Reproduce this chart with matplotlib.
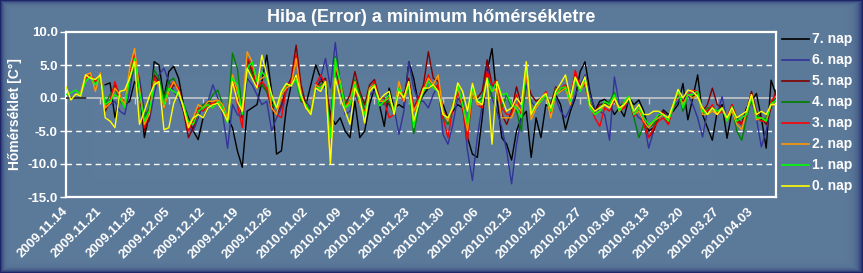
import matplotlib

matplotlib.use("Agg")
import matplotlib.pyplot as plt  # noqa: E402
import matplotlib.dates as mdates  # noqa: E402
from matplotlib.lines import Line2D  # noqa: E402
import numpy as np  # noqa: E402
import pandas as pd  # noqa: E402

plt.rcParams["font.family"] = ["Liberation Sans", "DejaVu Sans"]
plt.rcParams["font.weight"] = "bold"

# daily forecast errors, 2009.11.14 .. 2010.04.08
start = "2009-11-14"
n_days = 146
tick_from, tick_to = "2009-11-14", "2010-04-03"

series_names = ["7. nap", "6. nap", "5. nap", "4. nap", "3. nap", "2. nap", "1. nap", "0. nap"]
series_colors = ["#000000", "#333399", "#800000", "#008000", "#ff0000", "#ff9900", "#00ff00", "#ffff00"]

N = None
nap0 = [1.7, -0.3, 0.6, 0.3, 3.5, 3.0, 2.8, 3.5, -3.0, -3.5,
        -4.5, 1.0, 1.2, 3.0, 5.5, -4.0, -2.0, 0.2, 2.0, 2.5,
        -4.8, -4.5, -0.8, 1.0, -1.5, -4.5, -3.0, -2.5, -3.0, -1.5,
        -1.0, -0.8, -2.0, -3.5, 2.5, -0.5, -2.0, 4.5, 3.0, 1.5,
        6.5, 3.5, 0.5, -1.5, 1.0, 2.2, 1.8, 3.5, 0.5, -1.5,
        -2.5, 1.5, 1.0, 2.5, -10.0, 3.0, 0.0, -2.0, -4.0, 1.5,
        0.0, -3.8, 1.0, 1.8, -0.3, 0.5, 1.0, -2.5, 1.0, 0.0,
        2.5, -3.5, -1.0, 1.5, 1.5, 2.0, 1.0, -2.5, -3.0, -1.5,
        2.3, 1.0, -2.0, 2.2, -0.5, -1.0, 3.0, -7.0, 2.5, 0.0,
        -2.0, -1.5, 0.0, -1.0, 5.5, -2.5, -1.0, 0.0, 0.7, -1.5,
        1.0, 2.2, 3.5, 0.0, 3.2, 1.5, 3.2, -1.0, -2.0, -1.5,
        -1.0, -1.5, 0.0, -1.5, -1.0, 0.0, -2.0, -1.0, -2.5, -2.5,
        -2.0, -2.0, -2.5, -3.0, -1.0, 1.3, 0.0, 1.2, 1.0, 0.2,
        -1.5, -2.5, -1.5, -2.5, -1.5, -3.0, -1.5, -3.0, -2.5, -2.0,
        0.5, -2.5, -2.0, -2.5, -1.0, -1.0]
nap1 = [0.5, 0.8, 1.2, 0.5, 2.5, 3.2, 2.0, 3.2, -1.0, -0.5,
        0.5, 0.0, -1.5, 3.0, 6.0, 1.0, -3.5, -2.0, 2.0, 2.5,
        -1.0, 1.5, 1.0, 0.5, -1.0, -3.5, -4.0, -2.0, -1.5, -1.0,
        -1.5, -0.5, -1.5, -3.8, 3.0, 2.0, -2.5, 4.5, 5.5, 2.5,
        4.0, 3.0, 0.0, -1.5, 1.0, 2.0, 2.0, 2.8, 0.0, -1.0,
        -2.5, 1.5, 1.5, 2.0, -6.0, 6.0, 2.0, -1.5, -1.0, 2.0,
        -0.5, -2.5, 1.0, 2.0, -1.2, -0.5, 0.5, -2.0, 1.5, 0.0,
        2.0, -4.5, -0.5, 1.0, 2.5, 1.5, 1.0, -2.5, -3.0, -1.5,
        2.0, -1.0, -4.0, 1.5, -0.5, -0.5, 3.0, 1.0, 2.5, 0.5,
        0.7, -1.0, -1.5, -3.0, 5.0, -2.0, -1.0, -0.5, 0.5, -2.0,
        0.5, 1.5, 1.7, -0.5, 3.0, 1.0, 3.0, -1.5, -2.5, -2.0,
        -0.5, -1.0, 0.5, -2.0, -0.5, 0.3, -2.5, -1.5, -3.0, -4.0,
        -3.5, -2.5, -2.5, -3.5, -1.5, 1.2, -1.5, 0.5, 0.5, 1.0,
        -2.0, -2.5, -1.5, -2.0, -1.5, -3.5, -1.3, -3.5, -3.0, -2.5,
        0.0, -3.0, -3.0, -3.5, -0.8, -0.5]
nap2 = [N, N, 0.5, 0.8, 3.5, 3.8, 1.0, 3.8, -1.5, -0.8,
        1.5, 0.5, -1.0, 4.5, 7.5, 1.5, -4.0, -2.5, 2.5, 2.0,
        -1.5, 1.0, 2.5, 1.0, -1.5, -4.0, -3.0, -1.0, -1.5, -0.5,
        -0.5, -0.3, -1.0, -3.0, 3.5, 1.0, -2.0, 7.0, 5.5, 2.5,
        3.0, 3.5, -1.5, -2.5, 0.5, 1.5, 2.0, 6.0, 0.5, -1.5,
        -2.0, 2.0, 1.5, 2.5, -9.5, 5.0, 2.5, -1.5, -0.5, 2.5,
        -1.0, -2.5, 1.5, 2.0, -0.5, -0.5, 0.0, -2.0, 2.5, -0.5,
        2.0, -2.0, -0.5, 1.0, 3.0, 2.0, 3.5, -2.0, -3.5, -1.0,
        1.5, -1.0, -5.0, 1.0, -1.0, -1.0, 2.5, 1.0, 1.5, -3.0,
        -3.0, -3.0, -1.0, -2.0, 4.0, -3.3, -1.5, -0.5, 0.5, -3.0,
        0.5, 1.0, 1.5, -1.0, 3.0, 1.0, 2.5, -1.5, -2.5, -2.0,
        -1.0, -1.5, 0.0, -2.0, -1.0, 0.0, -2.5, -2.0, -3.5, -4.5,
        -3.5, -3.0, -2.5, -3.5, -1.0, 1.0, -1.0, 0.5, 0.0, 0.5,
        -2.5, -2.5, -2.0, -2.5, -1.5, -3.5, -2.0, -4.0, -4.8, -2.0,
        0.5, -3.3, -3.0, -3.5, -1.0, -0.5]
nap3 = [N, N, N, 0.5, 3.0, 3.5, 2.5, 3.5, -1.5, -0.5,
        2.5, 0.0, -1.0, 3.5, 6.5, 1.0, -4.5, -2.0, 3.0, 2.0,
        -1.0, 1.5, 2.5, 1.5, -1.5, -5.0, -3.5, -1.5, -2.0, -1.0,
        -0.8, -0.3, -2.0, -3.5, 3.0, -1.0, -4.5, 6.0, 5.0, 1.5,
        2.5, 1.5, -1.5, -2.5, -3.0, 1.5, 2.5, 6.5, 0.0, -1.5,
        -2.5, 2.0, 3.5, 2.0, -5.0, 5.5, 1.5, -1.0, -0.5, 1.5,
        -1.0, -2.0, 1.0, 2.5, -0.5, -0.5, -3.0, -2.5, 1.0, -0.5,
        2.5, -2.0, 0.0, 1.5, 3.5, 1.5, 2.0, -3.0, -6.0, -1.5,
        1.0, -1.5, -6.5, 1.5, -1.0, -1.5, 4.0, 2.0, 2.7, -1.5,
        -2.5, -2.5, 0.5, -2.5, 3.5, -2.0, -1.0, -0.5, 1.0, -2.5,
        1.0, 1.5, 2.0, -0.3, 4.2, 1.5, 2.0, -1.0, -3.0, -4.3,
        -1.5, -2.0, 0.0, -2.0, -1.5, 0.3, -2.8, -1.5, -4.0, -6.0,
        -4.5, -3.5, -3.0, -4.0, -1.5, 0.8, -1.0, 0.5, 1.2, 1.0,
        -2.0, -2.0, -1.0, -2.5, -2.0, -3.0, -1.0, -3.5, -4.0, -2.5,
        0.0, -3.0, -3.5, -3.5, -0.5, 0.5]
nap4 = [N, N, N, N, N, N, N, 3.0, -1.0, 0.5,
        1.5, -0.5, -1.2, 2.5, 5.0, 0.5, -3.0, -1.5, 4.2, 3.0,
        0.0, 2.5, 3.0, 1.0, -1.0, -4.0, -3.5, -2.0, -1.0, -0.8,
        0.5, 1.2, -1.0, -3.0, 6.8, 4.5, -2.0, 5.0, 3.5, 1.5,
        2.0, 1.0, -1.0, -1.5, 0.5, 1.5, 2.2, 2.7, -0.5, -1.0,
        -2.0, 1.5, 2.0, 2.5, -5.5, 6.3, 2.5, -0.5, -1.0, 2.8,
        0.5, -2.0, 1.5, 2.0, -1.0, -0.8, -0.5, -2.5, 1.0, 0.0,
        1.5, -5.4, -1.5, 1.0, 2.5, 2.0, 1.5, -3.0, -4.0, -0.8,
        1.5, -1.5, -6.0, 0.5, -0.5, 0.0, 3.5, 0.0, 0.0, -1.5,
        0.5, -1.5, -2.0, -5.0, 4.0, -2.5, -1.5, -0.5, 0.8, -1.5,
        1.5, 1.0, 2.0, 0.5, 2.5, 1.5, 2.5, -0.5, -2.5, -2.0,
        -1.0, -0.5, 0.8, -2.0, -1.0, -0.5, -3.0, -6.0, -4.0, -4.5,
        -4.0, -3.0, -2.5, -3.5, -1.0, 1.0, -2.0, 0.5, 0.0, 0.5,
        -2.5, -1.5, -1.5, -2.0, -2.0, -3.0, -1.5, -5.0, -6.4, -3.0,
        0.0, -2.5, -3.5, -3.0, -1.0, 0.0]
nap5 = [N, N, N, N, N, N, N, 3.3, -2.0, -0.5,
        2.0, 0.5, -1.5, 3.5, 6.5, 2.0, -5.0, -3.0, 3.5, 2.5,
        -1.5, 1.0, 2.0, 1.5, -2.0, -6.0, -4.5, -2.0, -1.5, -0.5,
        -1.0, -0.5, -1.5, -3.0, 2.5, 1.0, -3.0, 6.0, 4.0, 1.5,
        2.0, 1.0, -1.5, -2.5, -1.0, 1.5, 3.0, 8.0, 2.0, -1.0,
        -2.0, 1.5, 2.5, 3.0, -3.5, 4.5, 1.5, -1.0, 0.5, 4.0,
        1.0, -1.0, 2.0, 2.8, 0.0, 0.0, -1.0, -2.0, 1.5, 0.5,
        3.0, -1.5, 0.0, 2.0, 7.0, 3.0, 2.5, -2.0, -3.0, -1.5,
        1.0, -0.5, -5.0, 1.0, 0.0, 1.0, 5.8, 2.0, 1.5, -2.5,
        -4.0, -2.0, 1.7, -1.0, 3.0, 0.5, -0.5, 0.0, 0.5, -1.0,
        1.7, 1.0, 1.5, 0.0, 3.5, 2.0, 2.0, -1.0, -2.0, -1.0,
        -0.8, -1.0, -0.5, -1.5, -0.5, 0.0, -2.5, -2.0, -3.5, -6.0,
        -5.0, -3.0, -2.0, -4.0, -1.0, 0.5, -0.5, 0.5, 0.0, 1.0,
        -2.0, -1.0, 1.5, -1.0, -1.5, -3.5, -1.0, -3.0, -4.0, -2.0,
        1.0, -2.0, -3.0, -4.0, -1.5, 1.2]
nap6 = [N, N, N, N, N, N, N, 2.8, -1.0, -1.0,
        -0.5, -2.0, -2.5, 1.0, 5.5, 3.0, -2.0, -3.5, 0.5, 3.5,
        4.5, 2.5, 1.0, 0.0, -2.0, -4.5, -5.0, -3.0, -1.0, -0.5,
        2.0, 0.0, -2.5, -7.6, -1.0, -2.5, -3.0, 3.0, 2.0, 0.5,
        -1.0, -0.5, -5.0, -3.0, -1.5, 1.0, 2.5, 3.0, 0.5, -0.5,
        -1.5, 1.0, 3.0, 6.0, 1.5, 8.4, 2.0, -2.5, -2.0, 0.5,
        -1.0, -2.0, 0.5, 1.0, -0.5, -1.0, 0.0, -1.5, -5.5, -2.0,
        5.5, 1.5, -0.5, -0.5, -1.5, 0.5, 2.0, -5.5, -7.0, -4.0,
        0.0, -1.0, -8.0, -12.5, -6.0, -1.0, 5.5, 0.0, -2.0, -4.5,
        -8.0, -13.0, -7.0, -3.0, 2.0, -0.5, -1.5, 0.0, 0.0, -1.0,
        0.0, -2.0, -3.0, -1.5, 0.5, 2.0, 3.5, 0.5, -1.5, -2.0,
        -2.5, -6.4, 3.2, -1.0, -1.5, -0.5, -2.0, -3.0, -3.5, -7.6,
        -5.0, -2.5, -2.0, -3.0, -1.5, -0.5, 0.0, 0.5, -1.0, -3.0,
        -5.9, -2.0, -1.5, -2.5, 0.2, -3.5, -1.5, -3.0, -4.0, -2.5,
        -0.5, -3.0, -7.4, -5.0, -1.0, -0.5]
nap7 = [0.0, 0.0, 0.0, 0.0, 0.0, N, N, N, 2.0, 2.3,
        -3.0, 0.5, -1.0, -0.5, 2.5, 1.5, -6.0, -2.5, 5.5, 5.0,
        0.0, 4.0, 4.8, 3.0, -1.0, -3.0, -5.0, -6.3, -3.0, -1.5,
        -1.0, -0.8, -1.5, -3.0, -4.5, -8.0, -10.5, -2.0, -1.5, -1.0,
        2.5, 6.5, 1.0, -8.5, -8.0, -1.5, 2.0, 3.5, 0.5, -1.0,
        2.0, 5.0, 3.0, 1.5, -2.5, -4.0, -3.0, -5.0, -6.0, -0.5,
        -6.0, -5.0, -1.0, 1.5, -1.0, -4.3, 1.5, -1.5, -1.0, -1.5,
        5.5, 3.0, -1.0, 0.5, 1.5, 2.0, 1.0, -1.0, -3.0, -2.0,
        -1.0, -1.5, -6.0, -8.5, -9.0, -3.0, 4.0, 7.5, 0.0, -6.0,
        -7.0, -9.4, -5.0, -3.0, -2.0, -9.0, -3.0, -6.0, -1.0, -1.5,
        0.5, -1.0, -4.8, -2.0, 0.0, 4.0, 5.5, 1.0, -2.0, -0.5,
        -0.2, -1.0, -2.5, -1.5, -2.8, 0.0, -1.0, -0.3, -2.0, -5.0,
        -4.5, -3.0, -1.8, -2.5, -2.0, -1.0, 2.2, -3.3, 0.0, 3.5,
        -2.5, -4.5, -6.4, -2.0, -1.0, -6.1, -2.0, -3.5, -4.0, -1.5,
        -0.5, 0.7, -3.0, -7.6, 2.7, 0.5]

series = [nap7, nap6, nap5, nap4, nap3, nap2, nap1, nap0]

days = pd.date_range(start, periods=n_days, freq="D")
tick_days = pd.date_range(tick_from, tick_to, freq="7D")

W, H = 863, 273
bg = np.array([92, 122, 154]) / 255
navy = np.array([28, 38, 105]) / 255

# bevelled dark-blue frame around the whole picture
yy, xx = np.mgrid[0:H, 0:W]
shade = np.maximum.reduce([
    np.exp(-xx / 2.5),
    np.exp(-(W - 1 - xx) / 4.0),
    np.exp(-yy / 2.0),
    np.exp(-(H - 1 - yy) / 2.5),
])
frame = bg * (1 - shade[..., None]) + navy * shade[..., None]

fig = plt.figure(figsize=(W / 100, H / 100), dpi=100)
fig.figimage(frame, xo=0, yo=0, origin="upper", zorder=-10)

ax = fig.add_axes([66 / W, 76 / H, 710 / W, 165 / H])
ax.set_facecolor("none")
ax.set_zorder(1)

for vals, name, color in zip(series, series_names, series_colors):
    ax.plot(days, np.array(vals, dtype=float), color=color, lw=1.0, label=name, zorder=3)

# zero line with small category ticks
ax.axhline(0, color="#c8c8c8", lw=1.2, zorder=1)
ax.plot(tick_days, np.zeros(len(tick_days)), ls="none", marker=3, ms=4,
        color="#c8c8c8", zorder=1)
for v in (5, -5, -10):
    ax.axhline(v, color="white", lw=1.0, ls=(0, (4, 3)), zorder=1)

ax.set_ylim(-15, 10)
ax.set_xlim(days[0], days[0] + pd.Timedelta(days=145))
yt = np.arange(-15, 10.1, 5)
ax.set_yticks(yt)
ax.set_yticklabels([f"{v:.1f}" for v in yt])
ax.set_xticks(tick_days)
ax.xaxis.set_major_formatter(mdates.DateFormatter("%Y.%m.%d"))
ax.tick_params(axis="y", colors="white", length=4, width=1, labelsize=9.5, pad=2)
ax.tick_params(axis="x", colors="white", length=0, labelsize=9.5, pad=9)
for lab in ax.get_xticklabels():
    lab.set_rotation(45)
    lab.set_ha("right")
    lab.set_va("center")
    lab.set_rotation_mode("anchor")
for sp in ax.spines.values():
    sp.set_color("white")
    sp.set_linewidth(1.6)

fig.text(0.5, 1 - 18 / H, "Hiba (Error) a minimum hőmérsékletre", color="white",
         fontsize=13, ha="center", va="center")
fig.text(15 / W, 1 - 114 / H, "Hőmérséklet [C°]", color="white", fontsize=10,
         rotation=90, ha="center", va="center")

# legend on the right
for i, (name, color) in enumerate(zip(series_names, series_colors)):
    y = 1 - (39 + 21 * i) / H
    fig.add_artist(Line2D([782 / W, 809 / W], [y, y], color=color, lw=1.2))
    fig.text(812 / W, y, name, color="white", fontsize=10, ha="left", va="center")

fig.savefig("out.png", dpi=100)
plt.close(fig)
